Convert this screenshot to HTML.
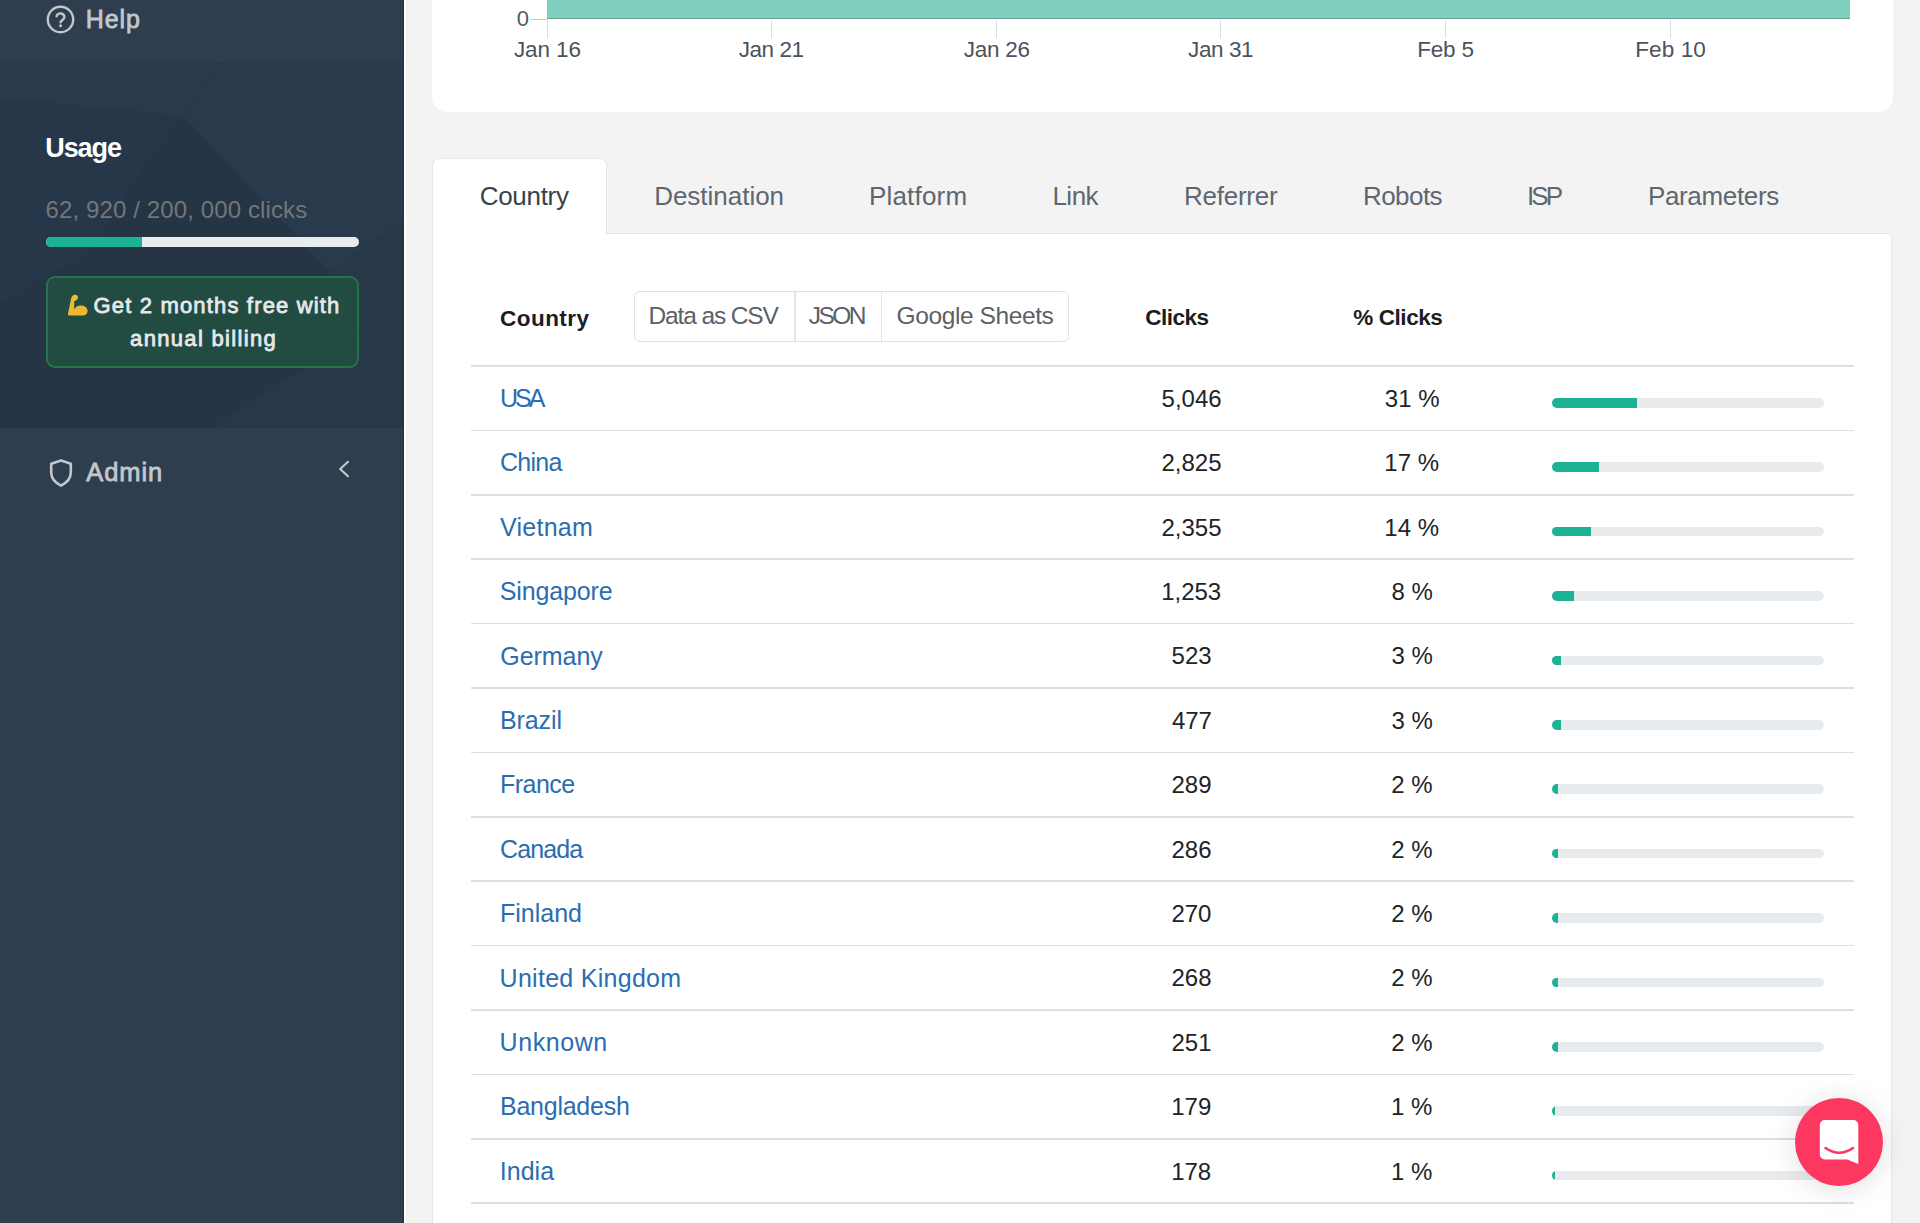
<!DOCTYPE html>
<html lang="en">
<head>
<meta charset="utf-8">
<title>Analytics - Country</title>
<style>
html,body{margin:0;padding:0;}
body{width:1920px;height:1223px;overflow:hidden;position:relative;background:#f3f3f3;font-family:"Liberation Sans",sans-serif;}
.t{position:absolute;white-space:nowrap;line-height:1;font-family:"Liberation Sans",sans-serif;}
#sidebar{position:absolute;left:0;top:0;width:404px;height:1223px;background:#2e3e4f;}
#sb-edge{position:absolute;left:403px;top:0;width:1px;height:1223px;background:#223142;}
#sb-white{position:absolute;left:404px;top:0;width:2px;height:1223px;background:#ffffff;}
#usage{position:absolute;left:0;top:62px;width:403px;height:366px;background:#243447;overflow:hidden;}
#usage svg{position:absolute;left:0;top:0;}
.ubar{position:absolute;left:46px;top:237px;width:312.5px;height:9.6px;border-radius:5px;background:#e9ecef;overflow:hidden;}
.ubar i{position:absolute;left:0;top:0;bottom:0;width:96.4px;background:#1bb394;}
#promo{position:absolute;left:46px;top:276px;width:308.5px;height:87.5px;border:2px solid #28744a;border-radius:9px;background:#224b42;}
#card{position:absolute;left:432px;top:-40px;width:1460.5px;height:152px;background:#fff;border-radius:15px;}
#bar{position:absolute;left:547px;top:0;width:1303px;height:19.2px;background:#81d0bf;border-bottom:0.8px solid #6a9f93;box-sizing:border-box;}
#ytick{position:absolute;left:529.5px;top:18.5px;width:17.5px;height:1.2px;background:#c6c9cf;}
.xt{position:absolute;top:19.5px;width:1.2px;height:18px;background:#d9dce0;}
#tab-active{position:absolute;left:432px;top:158px;width:173px;height:75.5px;background:#fff;border:1.5px solid #e3e5e8;border-bottom:none;border-radius:7px 7px 0 0;}
#panel{position:absolute;left:432px;top:233px;width:1457.5px;height:1000px;background:#fff;border:1.5px solid #e3e5e8;border-top-right-radius:4px;}

#btng{position:absolute;left:633.5px;top:290.5px;width:433.5px;height:49px;border:1.5px solid #dfe2e6;border-radius:6px;background:#fff;}
.sep{position:absolute;top:292px;width:1.5px;height:49px;background:#e1e4e8;}
#hl{position:absolute;left:471px;top:365.2px;width:1383px;height:1.5px;background:#dcdfe3;}
.rl{position:absolute;left:471px;width:1383px;height:1.6px;background:#dddfe2;margin-top:-0.8px;}
.pb{position:absolute;left:1552px;width:272px;height:9.5px;border-radius:5px;background:#e8ebee;overflow:hidden;}
.pf{position:absolute;left:0;top:0;bottom:0;background:#1bb394;}
#chat{position:absolute;left:1795px;top:1098px;width:88px;height:88px;border-radius:50%;background:#fc3760;box-shadow:0 3px 30px rgba(0,0,0,0.13);}
#chat svg{position:absolute;left:0;top:0;}
svg.ic{position:absolute;overflow:visible;}
</style>
</head>
<body>
<aside id="nav">
<div id="sidebar"></div>
<section id="usage">
<svg width="403" height="366" viewBox="0 0 403 366">
<rect width="403" height="366" fill="#253546"/>
<polygon points="0,0 221,0 183,54 0,36" fill="#283a4b"/>
<polygon points="221,0 403,0 403,158 330,210 183,54" fill="#283a4b"/>
<polygon points="0,36 183,54 148,97 91,188 0,240" fill="#26374a"/>
<polygon points="403,158 403,366 211,366 360,268 330,210" fill="#273849"/>
<polygon points="0,324 183,340 211,366 0,366" fill="#243446"/>
</svg>
</section>
<div id="sb-edge"></div>
<div id="sb-white"></div>
<svg class="ic" style="left:46px;top:5px" width="29" height="29" viewBox="0 0 29 29">
<circle cx="14.5" cy="14.5" r="12.7" fill="none" stroke="#c3c7cd" stroke-width="2.4"/>
<path d="M10.6 11.2a4 4 0 0 1 7.8 0.9c0 2.6-3.8 3.4-3.8 5.1" fill="none" stroke="#c3c7cd" stroke-width="2.4" stroke-linecap="round"/>
<circle cx="14.6" cy="20.8" r="1.5" fill="#c3c7cd"/>
</svg>
<div class="ubar"><i></i></div>
<div id="promo"></div>
<svg class="ic" style="left:62px;top:290px" width="30" height="30" viewBox="0 0 30 30">
<path d="M10.5 6C11 4.4 15 4.4 16 6.5L15.6 9C14.6 10.5 13 11 12.2 11.2L12.2 19.4C13.6 17 15.6 15.5 19 15.5C23 15.5 25.6 18 25.6 21C25.6 23.6 23.6 25.6 21 25.6L7.2 25.6C6.2 25.6 5.9 24.6 6 23.6L9 9C9.3 7.5 9.8 6.5 10.5 6Z" fill="#f0b832"/>
</svg>
<svg class="ic" style="left:48px;top:458px" width="26" height="30" viewBox="0 0 26 30">
<path d="M13 2.4L3.2 5.8v8.8c0 5.8 4 10.2 9.8 13 5.8-2.8 9.8-7.2 9.8-13V5.8z" fill="none" stroke="#c3c7cd" stroke-width="2.6" stroke-linejoin="round"/>
</svg>
<svg class="ic" style="left:337px;top:460px" width="14" height="18" viewBox="0 0 14 18">
<path d="M11 1.8L3.2 9l7.8 7.2" fill="none" stroke="#c3c7cd" stroke-width="2.2" stroke-linecap="round" stroke-linejoin="round"/>
</svg>
<span class="t" style="left:85.80px;top:7.24px;font-size:25px;color:#c3c7cd;-webkit-text-stroke:0.8px #c3c7cd;letter-spacing:0.871px;">Help</span>
<span class="t" style="left:45.18px;top:134.94px;font-size:27px;color:#ffffff;font-weight:700;letter-spacing:-1.045px;">Usage</span>
<span class="t" style="left:45.60px;top:197.98px;font-size:24px;color:#747678;letter-spacing:0.113px;">62, 920 / 200, 000 clicks</span>
<span class="t" style="left:93.50px;top:294.58px;font-size:22px;color:#e6e8ea;-webkit-text-stroke:0.8px #e6e8ea;letter-spacing:1.168px;">Get 2 months free with</span>
<span class="t" style="left:130.12px;top:327.88px;font-size:22px;color:#e6e8ea;-webkit-text-stroke:0.8px #e6e8ea;letter-spacing:1.322px;">annual billing</span>
<span class="t" style="left:86.30px;top:459.51px;font-size:25.5px;color:#c3c7cd;-webkit-text-stroke:0.8px #c3c7cd;letter-spacing:0.920px;">Admin</span>
</aside>

<main id="content">
<section id="chart">
<div id="card"></div>
<div id="bar"></div>
<div id="ytick"></div>
<div class="xt" style="left:546.5px"></div>
<div class="xt" style="left:771.1px"></div>
<div class="xt" style="left:995.7px"></div>
<div class="xt" style="left:1220.3px"></div>
<div class="xt" style="left:1444.9px"></div>
<div class="xt" style="left:1669.5px"></div>
<span class="t" style="left:516.63px;top:7.98px;font-size:22px;color:#555b62;">0</span>
<span class="t" style="left:513.96px;top:38.75px;font-size:22.5px;color:#4b535b;letter-spacing:-0.118px;">Jan 16</span>
<span class="t" style="left:738.66px;top:38.75px;font-size:22.5px;color:#4b535b;letter-spacing:-0.436px;">Jan 21</span>
<span class="t" style="left:963.66px;top:38.75px;font-size:22.5px;color:#4b535b;letter-spacing:-0.258px;">Jan 26</span>
<span class="t" style="left:1188.06px;top:38.75px;font-size:22.5px;color:#4b535b;letter-spacing:-0.416px;">Jan 31</span>
<span class="t" style="left:1417.20px;top:38.75px;font-size:22.5px;color:#4b535b;letter-spacing:-0.202px;">Feb 5</span>
<span class="t" style="left:1635.20px;top:38.75px;font-size:22.5px;color:#4b535b;letter-spacing:0.113px;">Feb 10</span>
</section>

<section id="stats">
<div id="panel"></div>
<nav id="tabs">
<div id="tab-active"></div>
<span class="t" style="left:479.70px;top:183.24px;font-size:26px;color:#39434d;letter-spacing:-0.290px;">Country</span>
<span class="t" style="left:654.17px;top:183.24px;font-size:26px;color:#5e676f;letter-spacing:-0.016px;">Destination</span>
<span class="t" style="left:868.92px;top:183.24px;font-size:26px;color:#5e676f;letter-spacing:0.202px;">Platform</span>
<span class="t" style="left:1052.42px;top:183.24px;font-size:26px;color:#5e676f;letter-spacing:-0.499px;">Link</span>
<span class="t" style="left:1183.92px;top:183.24px;font-size:26px;color:#5e676f;letter-spacing:-0.234px;">Referrer</span>
<span class="t" style="left:1362.92px;top:183.24px;font-size:26px;color:#5e676f;letter-spacing:-0.538px;">Robots</span>
<span class="t" style="left:1526.96px;top:183.24px;font-size:26px;color:#5e676f;letter-spacing:-2.908px;">ISP</span>
<span class="t" style="left:1647.92px;top:183.24px;font-size:26px;color:#5e676f;letter-spacing:-0.343px;">Parameters</span>
</nav>
<div id="btng"></div>
<div class="sep" style="left:794px"></div>
<div class="sep" style="left:880.5px"></div>
<div id="hl"></div>
<div class="rl" style="top:430.40px"></div>
<div class="pb" style="top:398.00px"><div class="pf" style="width:85px"></div></div>
<div class="rl" style="top:494.80px"></div>
<div class="pb" style="top:462.40px"><div class="pf" style="width:47px"></div></div>
<div class="rl" style="top:559.20px"></div>
<div class="pb" style="top:526.80px"><div class="pf" style="width:39px"></div></div>
<div class="rl" style="top:623.60px"></div>
<div class="pb" style="top:591.20px"><div class="pf" style="width:22px"></div></div>
<div class="rl" style="top:688.00px"></div>
<div class="pb" style="top:655.60px"><div class="pf" style="width:9px"></div></div>
<div class="rl" style="top:752.40px"></div>
<div class="pb" style="top:720.00px"><div class="pf" style="width:9px"></div></div>
<div class="rl" style="top:816.80px"></div>
<div class="pb" style="top:784.40px"><div class="pf" style="width:6px"></div></div>
<div class="rl" style="top:881.20px"></div>
<div class="pb" style="top:848.80px"><div class="pf" style="width:6px"></div></div>
<div class="rl" style="top:945.60px"></div>
<div class="pb" style="top:913.20px"><div class="pf" style="width:6px"></div></div>
<div class="rl" style="top:1010.00px"></div>
<div class="pb" style="top:977.60px"><div class="pf" style="width:6px"></div></div>
<div class="rl" style="top:1074.40px"></div>
<div class="pb" style="top:1042.00px"><div class="pf" style="width:6px"></div></div>
<div class="rl" style="top:1138.80px"></div>
<div class="pb" style="top:1106.40px"><div class="pf" style="width:3px"></div></div>
<div class="rl" style="top:1203.20px"></div>
<div class="pb" style="top:1170.80px"><div class="pf" style="width:3px"></div></div>
<span class="t" style="left:500.10px;top:307.55px;font-size:22.5px;color:#1b1d1f;font-weight:700;letter-spacing:0.447px;">Country</span>
<span class="t" style="left:648.44px;top:303.56px;font-size:24.5px;color:#5a6168;letter-spacing:-1.121px;">Data as CSV</span>
<span class="t" style="left:808.83px;top:303.56px;font-size:24.5px;color:#5a6168;letter-spacing:-2.561px;">JSON</span>
<span class="t" style="left:896.57px;top:303.56px;font-size:24.5px;color:#5a6168;letter-spacing:-0.400px;">Google Sheets</span>
<span class="t" style="left:1145.30px;top:307.45px;font-size:22.5px;color:#1b1d1f;font-weight:700;letter-spacing:-0.516px;">Clicks</span>
<span class="t" style="left:1353.25px;top:307.45px;font-size:22.5px;color:#1b1d1f;font-weight:700;letter-spacing:-0.426px;">% Clicks</span>
<span class="t" style="left:499.93px;top:386.04px;font-size:25px;color:#2a6db1;letter-spacing:-2.902px;">USA</span>
<span class="t" style="left:1161.58px;top:386.88px;font-size:24px;color:#212427;">5,046</span>
<span class="t" style="left:1384.84px;top:386.88px;font-size:24px;color:#212427;">31 %</span>
<span class="t" style="left:500.00px;top:450.44px;font-size:25px;color:#2a6db1;letter-spacing:-0.729px;">China</span>
<span class="t" style="left:1161.46px;top:451.28px;font-size:24px;color:#212427;">2,825</span>
<span class="t" style="left:1384.36px;top:451.28px;font-size:24px;color:#212427;">17 %</span>
<span class="t" style="left:500.00px;top:514.84px;font-size:25px;color:#2a6db1;letter-spacing:0.261px;">Vietnam</span>
<span class="t" style="left:1161.46px;top:515.68px;font-size:24px;color:#212427;">2,355</span>
<span class="t" style="left:1384.36px;top:515.68px;font-size:24px;color:#212427;">14 %</span>
<span class="t" style="left:499.77px;top:579.24px;font-size:25px;color:#2a6db1;letter-spacing:-0.140px;">Singapore</span>
<span class="t" style="left:1161.16px;top:580.08px;font-size:24px;color:#212427;">1,253</span>
<span class="t" style="left:1391.45px;top:580.08px;font-size:24px;color:#212427;">8 %</span>
<span class="t" style="left:500.25px;top:643.64px;font-size:25px;color:#2a6db1;letter-spacing:-0.043px;">Germany</span>
<span class="t" style="left:1171.59px;top:644.48px;font-size:24px;color:#212427;">523</span>
<span class="t" style="left:1391.51px;top:644.48px;font-size:24px;color:#212427;">3 %</span>
<span class="t" style="left:500.00px;top:708.04px;font-size:25px;color:#2a6db1;letter-spacing:-0.112px;">Brazil</span>
<span class="t" style="left:1171.89px;top:708.88px;font-size:24px;color:#212427;">477</span>
<span class="t" style="left:1391.51px;top:708.88px;font-size:24px;color:#212427;">3 %</span>
<span class="t" style="left:500.00px;top:772.44px;font-size:25px;color:#2a6db1;letter-spacing:-0.516px;">France</span>
<span class="t" style="left:1171.53px;top:773.28px;font-size:24px;color:#212427;">289</span>
<span class="t" style="left:1391.33px;top:773.28px;font-size:24px;color:#212427;">2 %</span>
<span class="t" style="left:500.00px;top:836.84px;font-size:25px;color:#2a6db1;letter-spacing:-0.894px;">Canada</span>
<span class="t" style="left:1171.47px;top:837.68px;font-size:24px;color:#212427;">286</span>
<span class="t" style="left:1391.33px;top:837.68px;font-size:24px;color:#212427;">2 %</span>
<span class="t" style="left:500.00px;top:901.24px;font-size:25px;color:#2a6db1;letter-spacing:-0.011px;">Finland</span>
<span class="t" style="left:1171.41px;top:902.08px;font-size:24px;color:#212427;">270</span>
<span class="t" style="left:1391.33px;top:902.08px;font-size:24px;color:#212427;">2 %</span>
<span class="t" style="left:499.62px;top:965.64px;font-size:25px;color:#2a6db1;letter-spacing:0.275px;">United Kingdom</span>
<span class="t" style="left:1171.47px;top:966.48px;font-size:24px;color:#212427;">268</span>
<span class="t" style="left:1391.33px;top:966.48px;font-size:24px;color:#212427;">2 %</span>
<span class="t" style="left:499.62px;top:1030.04px;font-size:25px;color:#2a6db1;letter-spacing:0.563px;">Unknown</span>
<span class="t" style="left:1171.53px;top:1030.88px;font-size:24px;color:#212427;">251</span>
<span class="t" style="left:1391.33px;top:1030.88px;font-size:24px;color:#212427;">2 %</span>
<span class="t" style="left:500.00px;top:1094.44px;font-size:25px;color:#2a6db1;letter-spacing:-0.247px;">Bangladesh</span>
<span class="t" style="left:1171.23px;top:1095.28px;font-size:24px;color:#212427;">179</span>
<span class="t" style="left:1391.03px;top:1095.28px;font-size:24px;color:#212427;">1 %</span>
<span class="t" style="left:499.75px;top:1158.84px;font-size:25px;color:#2a6db1;letter-spacing:0.036px;">India</span>
<span class="t" style="left:1171.17px;top:1159.68px;font-size:24px;color:#212427;">178</span>
<span class="t" style="left:1391.03px;top:1159.68px;font-size:24px;color:#212427;">1 %</span>
</section>
</main>

<div id="chat">
<svg width="88" height="88" viewBox="0 0 88 88">
<path d="M24.8 27a5 5 0 0 1 5-5h28.5a5 5 0 0 1 5 5V66l-11-4.5H29.8a5 5 0 0 1-5-5z" fill="#fff"/>
<path d="M30.5 50Q44.2 59.5 58 50" fill="none" stroke="#fc3760" stroke-width="2.6" stroke-linecap="round"/>
</svg>
</div>
</body>
</html>
